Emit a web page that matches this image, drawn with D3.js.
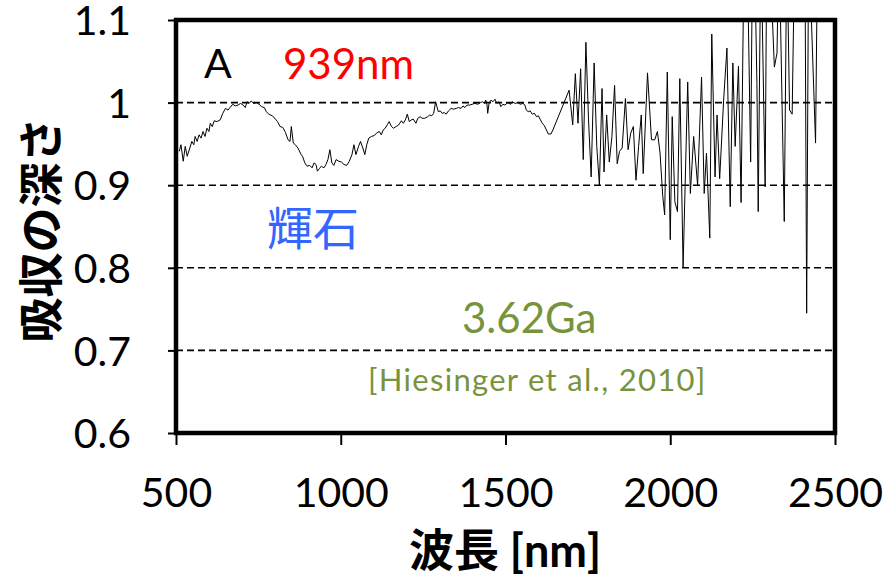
<!DOCTYPE html>
<html><head><meta charset="utf-8">
<script src="https://cdn.jsdelivr.net/npm/d3@7"></script>
<style>body{margin:0;background:#fff}</style>
</head><body><svg id="chart" width="885" height="576"></svg>
<script>
// Band-depth spectrum, 500–2500 nm
const wavelength = [
  510,515,522,528,534,542,548,554,558,564,570,576,582,588,594,600,604,610,616,624,634,642,650,658,664,672,680,688,696,704,
  710,716,722,728,736,744,752,760,768,774,782,792,800,808,816,824,832,840,846,850,856,862,870,880,884,891,898,906,913,919,
  925,929,935,941,949,955,961,967,973,979,986,994,1002,1010,1018,1026,1034,1040,1046,1054,1060,1067,1073,1079,1085,1093,1101,1109,1117,1123,
  1129,1135,1141,1147,1154,1160,1168,1176,1184,1190,1196,1202,1208,1214,1220,1228,1234,1241,1247,1255,1264,1270,1276,1282,1288,1292,1296,1302,1308,1314,
  1320,1327,1335,1343,1351,1357,1365,1371,1377,1383,1391,1399,1407,1416,1424,1430,1436,1440,1444,1446,1450,1456,1462,1468,1474,1480,1486,1492,1498,1507,
  1515,1521,1529,1537,1545,1553,1559,1563,1569,1575,1581,1588,1594,1600,1606,1612,1618,1624,1630,1638,1644,1693,
  1704,1712,1720,1728,1736,1744,1752,1760,1769,1777,1785,1793,1799,1807,1815,1823,1831,1839,1846,1854,1864,1872,1880,1888,1896,1904,1912,1918,1931,1943,
  1953,1961,1969,1977,1983,1991,2000,2006,2014,2022,2029,2039,2053,2061,2071,2083,2095,2103,2110,2120,2126,2136,2142,2150,2162,2172,2182,2190,2197,2207,
  2215,2223,2233,2244,2250,2256,2263,2267,2275,2288,2294,2300,2316,2324,2330,2346,2354,2362,2370,2378,2408,2414,2420,2441,2446
];
const depth = [
  0.941,0.949,0.929,0.947,0.935,0.945,0.953,0.949,0.959,0.953,0.961,0.957,0.965,0.959,0.969,0.965,0.975,0.971,0.978,0.977,0.979,0.987,0.993,0.991,0.994,0.998,0.996,0.997,0.999,0.997,
  0.994,1.001,0.999,1.002,0.999,1.000,0.998,0.995,0.994,0.989,0.986,0.984,0.981,0.977,0.971,0.970,0.964,0.955,0.953,0.971,0.951,0.949,0.945,0.937,0.935,0.927,0.923,0.924,0.921,0.927,
  0.925,0.917,0.920,0.923,0.921,0.925,0.931,0.943,0.927,0.924,0.931,0.929,0.928,0.925,0.924,0.929,0.937,0.949,0.937,0.947,0.953,0.945,0.937,0.949,0.957,0.959,0.960,0.963,0.965,0.961,
  0.967,0.969,0.973,0.977,0.971,0.969,0.971,0.973,0.978,0.975,0.979,0.986,0.977,0.979,0.980,0.975,0.981,0.983,0.981,0.981,0.983,0.985,0.984,0.987,1.001,0.995,0.989,0.990,0.987,0.988,
  0.986,0.990,0.993,0.992,0.993,0.994,0.993,0.996,0.994,0.997,0.997,0.998,0.999,0.998,1.000,1.001,0.999,1.003,0.997,0.987,0.999,1.003,1.001,1.004,0.999,1.001,0.995,0.998,0.997,1.000,
  0.998,1.001,0.999,1.000,0.998,0.999,0.997,0.991,0.989,0.990,0.986,0.987,0.983,0.984,0.979,0.975,0.972,0.967,0.962,0.962,0.967,1.015,
  0.973,1.035,0.975,1.041,0.931,1.073,0.979,0.910,1.048,0.947,0.900,1.017,0.916,0.985,0.928,0.959,1.021,0.926,0.941,0.945,1.005,0.943,0.963,0.971,0.906,0.947,0.985,0.914,1.036,0.955,
  0.955,0.965,0.939,0.888,0.864,1.037,0.834,0.983,0.880,0.868,1.029,0.801,1.025,0.890,0.959,0.900,1.031,0.890,0.939,0.836,1.083,0.910,0.985,0.908,1.003,1.066,0.874,1.048,0.947,1.044,
  0.879,1.150,1.200,0.928,1.200,1.180,1.023,0.868,1.200,0.898,1.250,1.200,1.043,1.060,1.200,0.856,1.200,0.991,0.986,1.200,1.250,0.745,1.200,0.951,1.150
];
const xTicks = [500, 1000, 1500, 2000, 2500];
const yTicks = [0.6, 0.7, 0.8, 0.9, 1.0, 1.1];
const yTickLabels = ["0.6", "0.7", "0.8", "0.9", "1", "1.1"];
const gridValues = [0.7, 0.8, 0.9, 1.0];

const svg = d3.select("#chart");
const m = {left: 176, top: 20, right: 50, bottom: 143};
const W = 885 - m.left - m.right, H = 576 - m.top - m.bottom;
const x = d3.scaleLinear().domain([500, 2500]).range([0, W]);
const y = d3.scaleLinear().domain([0.6, 1.1]).range([H, 0]);
const g = svg.append("g").attr("transform", `translate(${m.left},${m.top})`);
const numFont = "Lato, 'Open Sans', sans-serif";

g.append("clipPath").attr("id", "plotclip")
  .append("rect").attr("width", W).attr("height", H);

// dashed gridlines
g.selectAll(".grid").data(gridValues).join("line")
  .attr("x1", 0).attr("x2", W)
  .attr("y1", d => y(d)).attr("y2", d => y(d))
  .attr("stroke", "#000").attr("stroke-width", 1.6)
  .attr("stroke-dasharray", "7,4");

// spectrum
const pts = wavelength.map((w, i) => [w, depth[i]]);
g.append("path").datum(pts)
  .attr("clip-path", "url(#plotclip)")
  .attr("fill", "none").attr("stroke", "#000").attr("stroke-width", 1)
  .attr("d", d3.line().x(d => x(d[0])).y(d => y(d[1])));

// axes
const yAxis = g.append("g").call(d3.axisLeft(y).tickValues(yTicks)
  .tickFormat((d, i) => yTickLabels[i]).tickSize(8).tickPadding(37));
const xAxis = g.append("g").attr("transform", `translate(0,${H})`)
  .call(d3.axisBottom(x).tickValues(xTicks).tickFormat(d3.format("d")).tickSize(12).tickPadding(33));
[yAxis, xAxis].forEach(a => {
  a.select(".domain").remove();
  a.selectAll(".tick line").attr("stroke", "#000").attr("stroke-width", 2);
  a.selectAll(".tick text").attr("font-family", numFont).attr("font-size", 41).attr("fill", "#000");
});
yAxis.selectAll(".tick text").attr("dy", "0.36em");

// frame
g.append("rect").attr("width", W).attr("height", H)
  .attr("fill", "none").attr("stroke", "#000").attr("stroke-width", 4.5);

// annotations
const note = (t, px, py, size, color, family, spacing) =>
  svg.append("text").attr("x", px).attr("y", py).text(t)
    .attr("font-family", family || numFont).attr("font-size", size)
    .attr("letter-spacing", spacing || 0).attr("fill", color);
note("A", 204, 78, 41, "#000");
note("939nm", 283, 79, 42, "#FF0000");
note("輝石", 267, 245, 46, "#3366FF", "'Noto Sans CJK JP', sans-serif");
note("3.62Ga", 462, 333, 42, "#77933C");
note("[Hiesinger et al., 2010]", 368, 391, 31, "#77933C", null, 1.3);

// axis titles
svg.append("text").attr("transform", "translate(38,230) rotate(-90)")
  .attr("text-anchor", "middle").attr("dominant-baseline", "central")
  .attr("font-family", "'Noto Sans CJK JP', sans-serif").attr("font-weight", "bold")
  .attr("font-size", 45).text("吸収の深さ");
svg.append("text").attr("x", 505).attr("y", 567).attr("text-anchor", "middle")
  .attr("font-family", "Lato, 'Noto Sans CJK JP', sans-serif").attr("font-weight", "bold")
  .attr("font-size", 45).text("波長 [nm]");
</script></body></html>
